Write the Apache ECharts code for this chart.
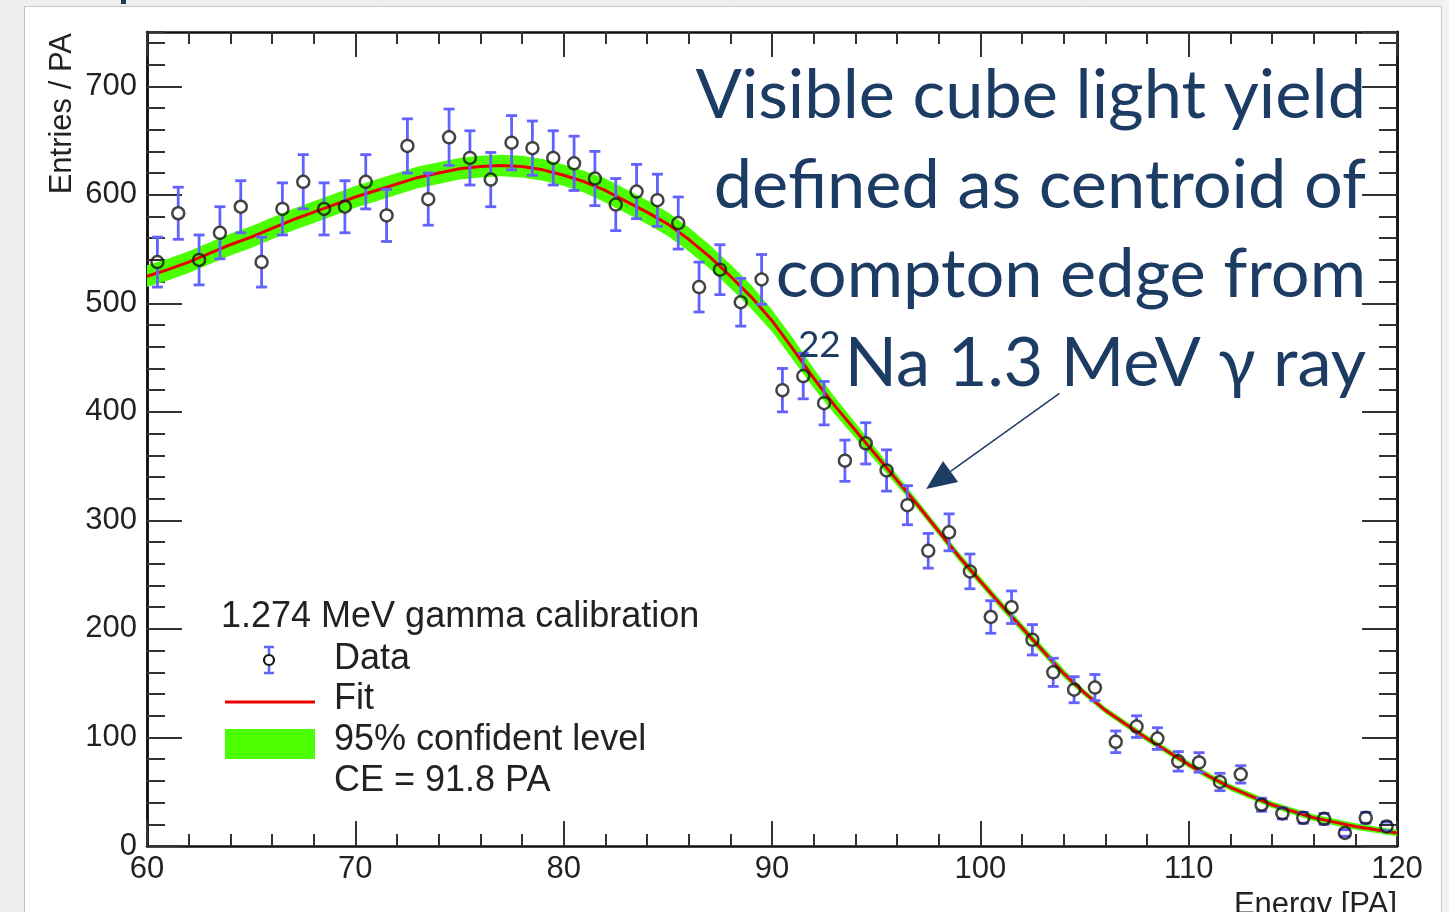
<!DOCTYPE html>
<html>
<head>
<meta charset="utf-8">
<style>
  html, body { margin: 0; padding: 0; background: #fff; }
  #main { width: 1449px; height: 912px; }
</style>
<script src="https://cdn.jsdelivr.net/npm/echarts@6/dist/echarts.min.js"></script>
</head>
<body>
<div id="main"></div>
<script>
// histogram bin centres (PA) and contents
var energy = [60.5, 61.5, 62.5, 63.5, 64.5, 65.5, 66.5, 67.5, 68.5, 69.5,
  70.5, 71.5, 72.5, 73.5, 74.5, 75.5, 76.5, 77.5, 78.5, 79.5,
  80.5, 81.5, 82.5, 83.5, 84.5, 85.5, 86.5, 87.5, 88.5, 89.5,
  90.5, 91.5, 92.5, 93.5, 94.5, 95.5, 96.5, 97.5, 98.5, 99.5,
  100.5, 101.5, 102.5, 103.5, 104.5, 105.5, 106.5, 107.5, 108.5, 109.5,
  110.5, 111.5, 112.5, 113.5, 114.5, 115.5, 116.5, 117.5, 118.5, 119.5]
var entries = [538, 583, 540, 565, 589, 538, 587, 612, 587, 589,
  612, 581, 645, 596, 653, 634, 614, 648, 643, 634,
  629, 615, 591, 603, 595, 574, 515, 531, 501, 522,
  420, 433, 408, 355, 371, 346, 314, 272, 289, 253,
  211, 220, 190, 160, 144, 146, 96, 110, 99, 78,
  77, 59, 66, 38, 30, 26, 25, 12, 26, 18]
var entryErr = [23, 24, 23, 24, 24, 23, 24, 25, 24, 24,
  25, 24, 25, 24, 26, 25, 25, 25, 25, 25,
  25, 25, 24, 25, 24, 24, 23, 23, 22, 23,
  20, 21, 20, 19, 19, 19, 18, 16, 17, 16,
  15, 15, 14, 13, 12, 12, 10, 10, 10, 9,
  9, 8, 8, 6, 5, 5, 5, 3, 5, 4]

// fit curve and half width of the 95% band
var fitEnergy = [60, 61, 62, 63, 64, 65, 66, 67, 68, 69,
  70, 71, 72, 73, 74, 75, 76, 77, 78, 79,
  80, 81, 82, 83, 84, 85, 86, 87, 88, 89,
  90, 91, 92, 93, 94, 95, 96, 97, 98, 99,
  100, 101, 102, 103, 104, 105, 106, 107, 108, 109,
  110, 111, 112, 113, 114, 115, 116, 117, 118, 119, 120]
var fitValue = [525, 531, 538, 546, 554, 561, 569, 577, 584, 591,
  598, 604, 610, 616, 620, 624, 626, 627, 626, 623,
  618, 612, 604, 594, 584, 573, 559, 543, 525, 506,
  484, 458, 431, 406, 383, 360, 337, 314, 290, 266,
  244, 222, 201, 180, 159, 141, 125, 112, 99, 87,
  75, 64, 54, 46, 38, 32, 26, 22, 18, 15, 12]
var ciHalf = [10, 10, 10, 10, 10, 10, 10, 10, 10, 10,
  10, 10, 10, 10, 10, 10, 10, 10, 10, 10,
  10, 10, 11, 11, 11, 11, 11, 11, 11, 11,
  10, 10, 9, 8, 7, 6, 5, 4, 4, 4,
  4, 4, 4, 4, 4, 3, 3, 3, 3, 3,
  3, 3, 3, 3, 3, 3, 3, 3, 3, 3, 3]

var noteLines = ['Visible cube light yield', 'defined as centroid of', 'compton edge from', 'Na 1.3 MeV \u03b3 ray']
var legendTitle = '1.274 MeV gamma calibration'

var ROOT_FONT = '"Liberation Sans", Arial, Helvetica, sans-serif'
var NOTE_FONT = 'Lato, "Open Sans", sans-serif'
var NAVY = '#1d3c64'
var GREEN = '#4cff00'
var RED = '#e80000'
var BLUE = '#6262ff'

var chart = echarts.init(document.getElementById('main'))

function axisBase(extra) {
  var a = {
    type: 'value',
    axisLine: { show: true, onZero: false, lineStyle: { color: '#111', width: 2.5 } },
    axisTick: { show: true, inside: true, lineStyle: { color: '#333', width: 2 } },
    axisLabel: { show: false },
    splitLine: { show: false }
  }
  return Object.assign(a, extra)
}

var xTickStyle = { show: true, inside: true, length: 25, lineStyle: { color: '#333', width: 2 } }
var xMinor = { show: true, splitNumber: 5, length: 12, lineStyle: { color: '#333', width: 2 } }

var option = {
  animation: false,
  backgroundColor: '#fff',
  grid: { left: 147, right: 52, top: 32, bottom: 66 },
  xAxis: [
    axisBase({
      position: 'bottom', min: 60, max: 120, interval: 10,
      axisTick: xTickStyle, minorTick: xMinor,
      axisLabel: { show: true, fontSize: 31, fontFamily: ROOT_FONT, color: '#222', margin: 8 }
    }),
    axisBase({ position: 'top', min: 60, max: 120, interval: 10, axisTick: xTickStyle, minorTick: xMinor })
  ],
  yAxis: [
    axisBase({
      position: 'left', min: 0, max: 750, interval: 100,
      axisTick: { show: true, inside: true, length: 35, lineStyle: { color: '#333', width: 2 } },
      axisLabel: { show: true, fontSize: 31, fontFamily: ROOT_FONT, color: '#222', margin: 10, showMaxLabel: false }
    }),
    axisBase({ position: 'left', min: 0, max: 750, interval: 20,
      axisTick: { show: true, inside: true, length: 18, lineStyle: { color: '#333', width: 2 } } }),
    axisBase({ position: 'right', min: 0, max: 750, interval: 100,
      axisTick: { show: true, inside: true, length: 35, lineStyle: { color: '#333', width: 2 } } }),
    axisBase({ position: 'right', min: 0, max: 750, interval: 20,
      axisTick: { show: true, inside: true, length: 18, lineStyle: { color: '#333', width: 2 } } })
  ],
  series: [
    {
      // 95% confidence band
      type: 'custom',
      z: 1,
      silent: true,
      data: [[fitEnergy[0], fitValue[0]]],
      renderItem: function (params, api) {
        var upper = [], lower = []
        for (var i = 0; i < fitEnergy.length; i++) {
          upper.push(api.coord([fitEnergy[i], fitValue[i] + ciHalf[i]]))
          lower.push(api.coord([fitEnergy[i], fitValue[i] - ciHalf[i]]))
        }
        return {
          type: 'polygon',
          shape: { points: upper.concat(lower.reverse()) },
          style: { fill: GREEN }
        }
      }
    },
    {
      name: 'Fit',
      type: 'line',
      z: 2,
      showSymbol: false,
      data: fitEnergy.map(function (x, i) { return [x, fitValue[i]] }),
      lineStyle: { color: RED, width: 3 }
    },
    {
      // error bars, kept outside the marker like ROOT does
      type: 'custom',
      z: 3,
      data: energy.map(function (x, i) { return [x, entries[i], entryErr[i]] }),
      encode: { x: 0, y: 1 },
      renderItem: function (params, api) {
        var x = api.value(0), y = api.value(1), e = api.value(2)
        var c = api.coord([x, y])
        var hi = api.coord([x, y + e])
        var lo = api.coord([x, y - e])
        var r = 6.5, w = 5.5
        var st = { stroke: BLUE, lineWidth: 2.8 }
        var kids = [
          { type: 'line', shape: { x1: c[0] - w, y1: hi[1], x2: c[0] + w, y2: hi[1] }, style: st },
          { type: 'line', shape: { x1: c[0] - w, y1: lo[1], x2: c[0] + w, y2: lo[1] }, style: st }
        ]
        if (c[1] - hi[1] > r) kids.push({ type: 'line', shape: { x1: c[0], y1: c[1] - r, x2: c[0], y2: hi[1] }, style: st })
        if (lo[1] - c[1] > r) kids.push({ type: 'line', shape: { x1: c[0], y1: c[1] + r, x2: c[0], y2: lo[1] }, style: st })
        return { type: 'group', children: kids }
      }
    },
    {
      name: 'Data',
      type: 'scatter',
      z: 4,
      symbol: 'circle',
      symbolSize: 12,
      data: energy.map(function (x, i) { return [x, entries[i]] }),
      itemStyle: { color: 'rgba(0,0,0,0)', borderColor: '#151515', borderWidth: 2.5 }
    }
  ]
}
chart.setOption(option)

// text widths, for placing the superscript
var measureCtx = document.createElement('canvas').getContext('2d')
function textWidth(str, font) {
  measureCtx.font = font
  return measureCtx.measureText(str).width
}

function txt(x, y, s, size, family, color, align, extra) {
  var el = {
    type: 'text', x: x, y: y, z: 100,
    style: { text: s, fontSize: size, fontFamily: family, fill: color, align: align || 'left', verticalAlign: 'middle' }
  }
  return Object.assign(el, extra || {})
}

var noteRight = 1366
var noteSize = 68.5
var noteY = [96, 186, 275, 364]
var graphics = []

// slide frame around the picture
graphics.push({ type: 'rect', z: -10, shape: { x: 0, y: 0, width: 1449, height: 6 }, style: { fill: '#efefef' } })
graphics.push({ type: 'rect', z: -10, shape: { x: 0, y: 0, width: 24, height: 912 }, style: { fill: '#efefef' } })
graphics.push({ type: 'rect', z: -10, shape: { x: 1441, y: 0, width: 8, height: 912 }, style: { fill: '#f3f3f3' } })
graphics.push({ type: 'line', z: -9, shape: { x1: 24.5, y1: 6, x2: 24.5, y2: 912 }, style: { stroke: '#c2c2c2', lineWidth: 1 } })
graphics.push({ type: 'line', z: -9, shape: { x1: 24, y1: 6.5, x2: 1441, y2: 6.5 }, style: { stroke: '#c8c8c8', lineWidth: 1 } })
graphics.push({ type: 'line', z: -9, shape: { x1: 1441.5, y1: 6, x2: 1441.5, y2: 912 }, style: { stroke: '#c8c8c8', lineWidth: 1 } })
graphics.push({ type: 'rect', z: -9, shape: { x: 121, y: 0, width: 5, height: 4 }, style: { fill: NAVY } })

// axis titles
graphics.push(txt(62, 33, 'Entries / PA', 31, ROOT_FONT, '#222', 'right', { rotation: Math.PI / 2 }))
graphics.push(txt(1397, 905, 'Energy [PA]', 31, ROOT_FONT, '#222', 'right'))

// annotation
noteLines.forEach(function (s, i) {
  graphics.push(txt(noteRight, noteY[i], s, noteSize, NOTE_FONT, NAVY, 'right'))
})
var lastW = textWidth(noteLines[3], noteSize + 'px ' + NOTE_FONT)
graphics.push(txt(noteRight - lastW - 4, 345, '22', 37, NOTE_FONT, NAVY, 'right'))

// arrow pointing at the edge
var from = chart.convertToPixel({ xAxisIndex: 0, yAxisIndex: 0 }, [103.8, 417])
var tip = chart.convertToPixel({ xAxisIndex: 0, yAxisIndex: 0 }, [97.4, 329])
var dx = from[0] - tip[0], dy = from[1] - tip[1]
var len = Math.sqrt(dx * dx + dy * dy)
var ux = dx / len, uy = dy / len
var headL = 30, headW = 13
var bx = tip[0] + ux * headL, by = tip[1] + uy * headL
graphics.push({ type: 'line', z: 100, shape: { x1: from[0], y1: from[1], x2: bx, y2: by }, style: { stroke: NAVY, lineWidth: 1.5 } })
graphics.push({
  type: 'polygon', z: 100,
  shape: { points: [tip, [bx - uy * headW, by + ux * headW], [bx + uy * headW, by - ux * headW]] },
  style: { fill: NAVY }
})

// legend, ROOT style
var lgX = 334
graphics.push(txt(221, 617, legendTitle, 36, ROOT_FONT, '#222'))
graphics.push({
  type: 'group', z: 100,
  children: [
    { type: 'line', shape: { x1: 269, y1: 647, x2: 269, y2: 654 }, style: { stroke: BLUE, lineWidth: 2.5 } },
    { type: 'line', shape: { x1: 269, y1: 666, x2: 269, y2: 673 }, style: { stroke: BLUE, lineWidth: 2.5 } },
    { type: 'line', shape: { x1: 264, y1: 647, x2: 274, y2: 647 }, style: { stroke: BLUE, lineWidth: 2.5 } },
    { type: 'line', shape: { x1: 264, y1: 673, x2: 274, y2: 673 }, style: { stroke: BLUE, lineWidth: 2.5 } },
    { type: 'circle', shape: { cx: 269, cy: 660, r: 5 }, style: { fill: 'none', stroke: '#151515', lineWidth: 2.2 } }
  ]
})
graphics.push(txt(lgX, 659, 'Data', 36, ROOT_FONT, '#222'))
graphics.push({ type: 'line', z: 100, shape: { x1: 225, y1: 702, x2: 315, y2: 702 }, style: { stroke: RED, lineWidth: 3 } })
graphics.push(txt(lgX, 699, 'Fit', 36, ROOT_FONT, '#222'))
graphics.push({ type: 'rect', z: 100, shape: { x: 225, y: 729, width: 90, height: 30 }, style: { fill: GREEN } })
graphics.push(txt(lgX, 740, '95% confident level', 36, ROOT_FONT, '#222'))
graphics.push(txt(lgX, 781, 'CE = 91.8 PA', 36, ROOT_FONT, '#222'))

chart.setOption({ graphic: graphics })
</script>
</body>
</html>
